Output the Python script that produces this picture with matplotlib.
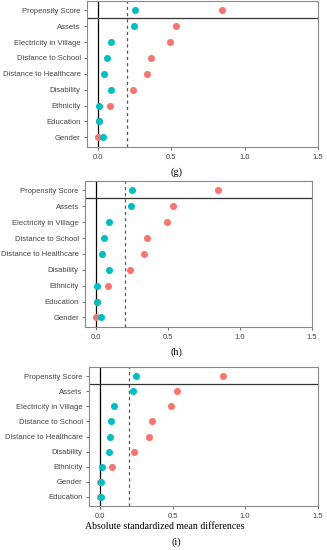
"""
Covariate balance (love plots) for three matching specifications, (g)-(i):
absolute standardized mean differences before (red) and after (teal) matching.
"""
import matplotlib
matplotlib.use("Agg")
import matplotlib.pyplot as plt

# Rows listed top to bottom
LABELS_GH = ["Propensity Score", "Assets", "Electricity in Village",
             "Distance to School", "Distance to Healthcare", "Disability",
             "Ethnicity", "Education", "Gender"]
LABELS_I = ["Propensity Score", "Assets", "Electricity in Village",
            "Distance to School", "Distance to Healthcare", "Disability",
            "Ethnicity", "Gender", "Education"]

# Unadjusted (before matching)
UNADJ_G = [0.847, 0.535, 0.492, 0.360, 0.335, 0.237, 0.084, 0.005, 0.000]
UNADJ_H = [0.846, 0.534, 0.492, 0.358, 0.335, 0.238, 0.086, 0.006, 0.002]
UNADJ_I = [0.844, 0.532, 0.491, 0.356, 0.335, 0.236, 0.085, 0.004, 0.004]

# Adjusted (after matching)
ADJ_G = [0.253, 0.244, 0.089, 0.059, 0.039, 0.091, 0.005, 0.007, 0.036]
ADJ_H = [0.254, 0.245, 0.088, 0.060, 0.042, 0.092, 0.007, 0.009, 0.037]
ADJ_I = [0.252, 0.229, 0.099, 0.076, 0.071, 0.062, 0.018, 0.005, 0.005]

XTICKS = [0.0, 0.5, 1.0, 1.5]
THRESHOLD = 0.2

RED = "#F8766D"
TEAL = "#00BFC4"

plt.rcParams["font.family"] = ["Liberation Sans", "DejaVu Sans"]

fig = plt.figure(figsize=(3.27, 5.5), dpi=100)

panels = [
    ([0.266, 0.733, 0.706, 0.2655], LABELS_GH, UNADJ_G, ADJ_G, "(g)", 0.687),
    ([0.260, 0.4055, 0.694, 0.2655], LABELS_GH, UNADJ_H, ADJ_H, "(h)", 0.360),
    ([0.272, 0.080, 0.700, 0.2527], LABELS_I, UNADJ_I, ADJ_I, "(i)", 0.014),
]

for rect, labels, unadj, adj, tag, tag_y in panels:
    ax = fig.add_axes(rect)
    n = len(labels)
    ypos = list(range(n - 1, -1, -1))

    ax.axvline(0, color="black", lw=0.9, zorder=1)
    ax.axvline(THRESHOLD, color="#555555", lw=0.9, ls=(0, (2.5, 2.5)), zorder=1)
    ax.axhline(n - 1.5, color="#333333", lw=0.9, zorder=1)

    ax.scatter(unadj, ypos, s=26, color=RED, zorder=3, linewidths=0)
    ax.scatter(adj, ypos, s=26, color=TEAL, zorder=4, linewidths=0)

    ax.set_xlim(-0.075, 1.5)
    ax.set_ylim(-0.6, n - 0.4)
    ax.set_yticks(ypos)
    ax.set_yticklabels(labels)
    ax.set_xticks(XTICKS)
    ax.set_xticklabels([f"{v:.1f}" for v in XTICKS])
    ax.tick_params(labelsize=5.5, length=2.5, width=0.6, color="#555555",
                   labelcolor="#444444", pad=2)
    ax.tick_params(axis="x", pad=2.5)
    for sp in ax.spines.values():
        sp.set_color("#8a8a8a")
        sp.set_linewidth(0.8)

    fig.text(0.54, tag_y, tag, family="Liberation Serif", fontsize=7.5,
             ha="center", va="center")

fig.text(0.505, 0.043, "Absolute standardized mean differences",
         family="Liberation Serif", fontsize=7.1, ha="center", va="center")

fig.savefig("out.png", dpi=100)
